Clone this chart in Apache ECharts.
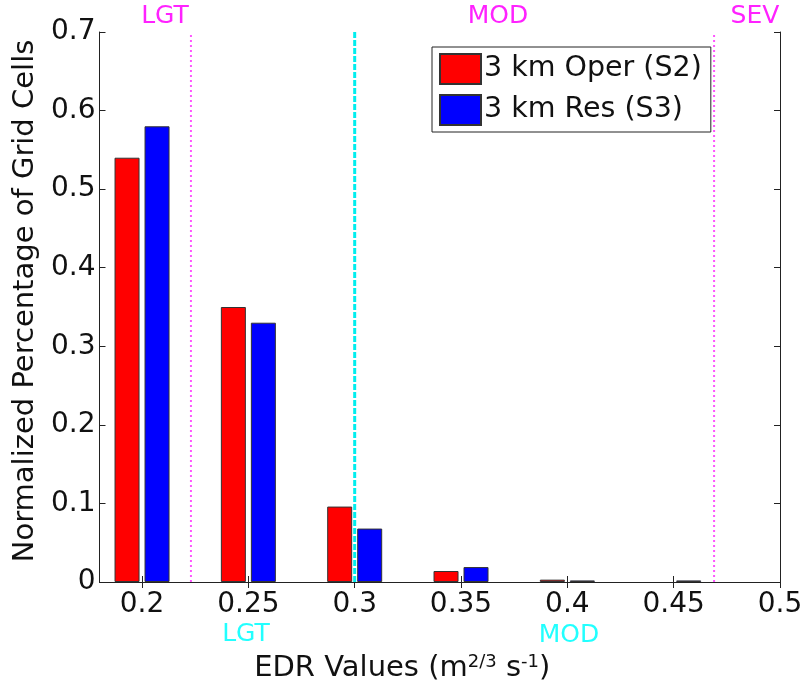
<!DOCTYPE html>
<html>
<head>
<meta charset="utf-8">
<script src="https://cdn.jsdelivr.net/npm/echarts@6/dist/echarts.min.js"></script>
<style>html,body{margin:0;padding:0;background:#fff;}#c{width:806px;height:689px;}</style>
</head>
<body>
<div id="c"></div>
<script>
// ---- data ----
const edrBins = [0.2, 0.25, 0.3, 0.35, 0.4, 0.45, 0.5];
const operS2 = [0.54, 0.35, 0.096, 0.014, 0.003, 0.0, 0.0];
const resS3 = [0.58, 0.33, 0.068, 0.019, 0.002, 0.002, 0.0];
const seriesNames = ['3 km Oper (S2)', '3 km Res (S3)'];
const xTickValues = [0.2, 0.25, 0.3, 0.35, 0.4, 0.45, 0.5];
const xTickLabels = ['0.2', '0.25', '0.3', '0.35', '0.4', '0.45', '0.5'];
const yTickLabels = ['0', '0.1', '0.2', '0.3', '0.4', '0.5', '0.6', '0.7'];
const thresholdLgt = 0.223;   // magenta dotted
const thresholdCyan = 0.3;    // cyan dashed
const thresholdSev = 0.469;   // magenta dotted

const FONT = 'DejaVu Sans';
const chart = echarts.init(document.getElementById('c'), null, {renderer: 'canvas'});

function xLabel(v) {
  const i = xTickValues.findIndex(t => Math.abs(t - v) < 1e-9);
  return i >= 0 ? xTickLabels[i] : '';
}
function yLabel(v) {
  const i = Math.round(v * 10);
  return yTickLabels[i] !== undefined ? yTickLabels[i] : '';
}
function vline(x, color, type, width) {
  return {
    type: 'line', data: [[x, 0], [x, 0.7]], symbol: 'none', silent: true,
    lineStyle: {color: color, type: type, width: width}, z: 5, animation: false
  };
}
// zero-height bars are not drawn (as in the reference)
function barData(vals) {
  return edrBins.map((x, i) => [x, vals[i] === 0 ? null : vals[i]]);
}

const axisLineStyle = {color: '#222', width: 1};
const option = {
  animation: false,
  backgroundColor: '#fff',
  grid: {left: 99.5, right: 26, top: 32, bottom: 107, containLabel: false},
  xAxis: [{
    type: 'value', min: 0.18, max: 0.5, position: 'bottom',
    axisLine: {show: true, lineStyle: axisLineStyle},
    axisTick: {show: true, inside: true, length: 6, customValues: xTickValues, lineStyle: axisLineStyle},
    axisLabel: {show: true, customValues: xTickValues, formatter: xLabel, fontFamily: FONT, fontSize: 28, color: '#111', margin: 9},
    splitLine: {show: false},
    name: '{a|EDR Values (m}{s|2/3}{a| s}{s|-1}{a|)}',
    nameLocation: 'middle', nameGap: 71,
    nameTextStyle: {
      fontFamily: FONT, fontSize: 29, color: '#111', padding: [0, 75, 0, 0],
      rich: {
        a: {fontFamily: FONT, fontSize: 29, color: '#111'},
        s: {fontFamily: FONT, fontSize: 18, color: '#111', verticalAlign: 'top', padding: [0, 0, 12, 0]}
      }
    }
  }, {
    type: 'value', min: 0.18, max: 0.5, position: 'top',
    axisLine: {show: true, lineStyle: axisLineStyle},
    axisTick: {show: true, inside: true, length: 6, customValues: xTickValues, lineStyle: axisLineStyle},
    axisLabel: {show: false},
    splitLine: {show: false}
  }],
  yAxis: [{
    type: 'value', min: 0, max: 0.7, interval: 0.1, position: 'left',
    axisLine: {show: true, lineStyle: axisLineStyle},
    axisTick: {show: true, inside: true, length: 6, lineStyle: axisLineStyle},
    axisLabel: {formatter: yLabel, fontFamily: FONT, fontSize: 28, color: '#111', margin: 4},
    splitLine: {show: false},
    name: 'Normalized Percentage of Grid Cells',
    nameLocation: 'middle', nameGap: 57,
    nameTextStyle: {fontFamily: FONT, fontSize: 29, color: '#111', padding: [0, 0, 0, 12]}
  }, {
    type: 'value', min: 0, max: 0.7, interval: 0.1, position: 'right',
    axisLine: {show: true, lineStyle: axisLineStyle},
    axisTick: {show: true, inside: true, length: 6, lineStyle: axisLineStyle},
    axisLabel: {show: false},
    splitLine: {show: false}
  }],
  legend: {
    data: seriesNames,
    orient: 'vertical', left: 432, top: 47,
    itemWidth: 41, itemHeight: 30, itemGap: 9,
    padding: [6, 9, 6, 7],
    borderColor: '#222', borderWidth: 1, backgroundColor: '#fff',
    textStyle: {fontFamily: FONT, fontSize: 28.5, color: '#111', padding: [0, 0, 0, -2]},
    icon: 'rect'
  },
  series: [
    {
      name: seriesNames[0], type: 'bar', barWidth: 25, barGap: '20%',
      data: barData(operS2),
      itemStyle: {color: '#ff0000', borderColor: '#333', borderWidth: 1}, z: 3
    },
    {
      name: seriesNames[1], type: 'bar', barWidth: 25, barGap: '20%',
      data: barData(resS3),
      itemStyle: {color: '#0000ff', borderColor: '#333', borderWidth: 1}, z: 3
    },
    vline(thresholdLgt, '#ff55ff', [2, 3], 2),
    vline(thresholdCyan, '#00eeee', [6, 2], 3),
    vline(thresholdSev, '#ff55ff', [2, 3], 2)
  ],
  graphic: [
    {type: 'text', x: 165, y: 16, style: {text: 'LGT', fill: '#ff22ff', font: '25px "DejaVu Sans"', textAlign: 'center', textVerticalAlign: 'middle'}},
    {type: 'text', x: 498, y: 16, style: {text: 'MOD', fill: '#ff22ff', font: '25px "DejaVu Sans"', textAlign: 'center', textVerticalAlign: 'middle'}},
    {type: 'text', x: 755, y: 16, style: {text: 'SEV', fill: '#ff22ff', font: '25px "DejaVu Sans"', textAlign: 'center', textVerticalAlign: 'middle'}},
    {type: 'text', x: 246, y: 634, style: {text: 'LGT', fill: '#22ffff', font: '25px "DejaVu Sans"', textAlign: 'center', textVerticalAlign: 'middle'}},
    {type: 'text', x: 569, y: 635, style: {text: 'MOD', fill: '#22ffff', font: '25px "DejaVu Sans"', textAlign: 'center', textVerticalAlign: 'middle'}}
  ]
};
chart.setOption(option);
</script>
</body>
</html>
